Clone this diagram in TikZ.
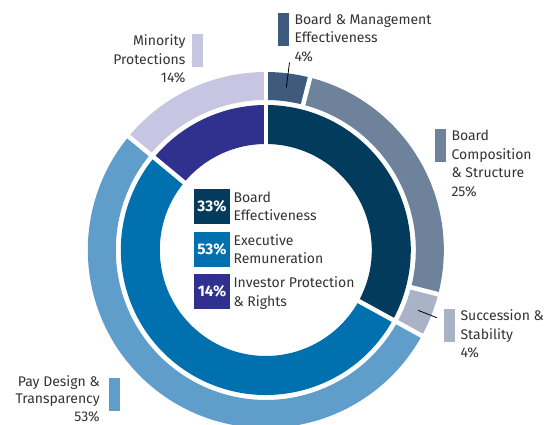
\documentclass[tikz,border=0pt]{standalone}
\usepackage{fontspec}
\setmainfont{Fira Sans}
\usetikzlibrary{positioning,calc}
\definecolor{beNavy}{HTML}{033B5D}
\definecolor{erBlue}{HTML}{0071AE}
\definecolor{ipPurple}{HTML}{30318F}
\definecolor{bmBlue}{HTML}{3E5B7E}
\definecolor{bcGray}{HTML}{6E829C}
\definecolor{ssGray}{HTML}{AAB3C6}
\definecolor{pdBlue}{HTML}{5F9DCB}
\definecolor{mpLilac}{HTML}{C7C5E1}
\definecolor{txtGray}{HTML}{333333}
\tikzset{
  gap/.style={white, line width=3.4pt},
  leader/.style={black, line width=0.6pt},
  pctbox/.style={fill=#1, text=white, inner sep=0pt, minimum width=27pt, minimum height=26.25pt,
    font=\fontsize{11.5}{12}\selectfont\bfseries},
  keybox/.style={fill=#1, inner sep=0pt, minimum width=8.25pt, minimum height=24.75pt},
  lbl/.style={text=txtGray, inner sep=0pt, font=\fontsize{10.5}{13.9}\selectfont},
}

\begin{document}
\begin{tikzpicture}[x=0.75pt,y=0.75pt,yscale=1,xscale=1]
\useasboundingbox (0,0) rectangle (551,425);
\clip (0,0) rectangle (551,425);

\begin{scope}[shift={(265.8,175)}]
%Inner ring
\foreach \a/\b/\c in {90/-28.8/beNavy, -28.8/-219.6/erBlue, 140.4/90/ipPurple}
  \fill[\c] (\a:145) arc[start angle=\a, end angle=\b, radius=145] -- (\b:106) arc[start angle=\b, end angle=\a, radius=106] -- cycle;
%Outer ring
\foreach \a/\b/\c in {90/75.6/bmBlue, 75.6/-14.4/bcGray, -14.4/-28.8/ssGray, -28.8/-219.6/pdBlue, 140.4/90/mpLilac}
  \fill[\c] (\a:178) arc[start angle=\a, end angle=\b, radius=178] -- (\b:150) arc[start angle=\b, end angle=\a, radius=150] -- cycle;
%white gaps between the slices
\foreach \a in {90,-28.8,140.4} \draw[gap] (\a:100) -- (\a:185);
\foreach \a in {75.6,-14.4} \draw[gap] (\a:147) -- (\a:185);
%leader ends
\coordinate (bm-in) at (82.8:164);
\coordinate (bm-out) at (82.8:189);
\coordinate (ss-in) at (-21.6:164);
\coordinate (ss-out) at (-21.6:184);
\end{scope}

%Straight Lines
\draw[leader] (bm-in) -- (bm-out);
\draw[leader] (ss-in) -- (ss-out);

%Legend in the middle
\node[pctbox=beNavy] (be) at (212,218.5) {33\%};
\node[pctbox=erBlue, below=5.25pt of be] (er) {53\%};
\node[pctbox=ipPurple, below=5.25pt of er] (ip) {14\%};
\node[lbl, anchor=north west, align=left] (be-t) at ([xshift=2.25pt,yshift=-2pt]be.north east) {Board\\Effectiveness};
\node[lbl, anchor=north west, align=left] (er-t) at ([xshift=2.25pt,yshift=-2pt]er.north east) {Executive\\Remuneration};
\node[lbl, anchor=north west, align=left] (ip-t) at ([xshift=2.25pt,yshift=-2pt]ip.north east) {Investor Protection\\\& Rights};

%Outer labels
\node[keybox=bmBlue] (bm) at (283.5,395.8) {};
\node[lbl, anchor=north west, align=left] (bm-t) at ([xshift=3.75pt,yshift=-0.75pt]bm.north east) {Board \& Management\\Effectiveness\\4\%};
\node[keybox=bcGray] (bc) at (440.5,279.5) {};
\node[lbl, anchor=north west, align=left] (bc-t) at ([xshift=3.75pt,yshift=-0.75pt]bc.north east) {Board\\Composition\\\& Structure\\25\%};
\node[keybox=ssGray] (ss) at (449.5,99.5) {};
\node[lbl, anchor=north west, align=left] (ss-t) at ([xshift=3.75pt,yshift=-0.75pt]ss.north east) {Succession \&\\Stability\\4\%};
\node[keybox=mpLilac] (mp) at (197.5,374.7) {};
\node[lbl, anchor=north east, align=right] (mp-t) at ([xshift=-4.5pt,yshift=-0.75pt]mp.north west) {Minority\\Protections\\14\%};
\node[keybox=pdBlue] (pd) at (114.5,30.8) {};
\node[lbl, anchor=north east, align=right, font=\fontsize{10.5}{13.2}\selectfont] (pd-t) at ([xshift=-6.5pt,yshift=1.75pt]pd.north west) {Pay Design \&\\Transparency\\53\%};
\end{tikzpicture}
\end{document}
